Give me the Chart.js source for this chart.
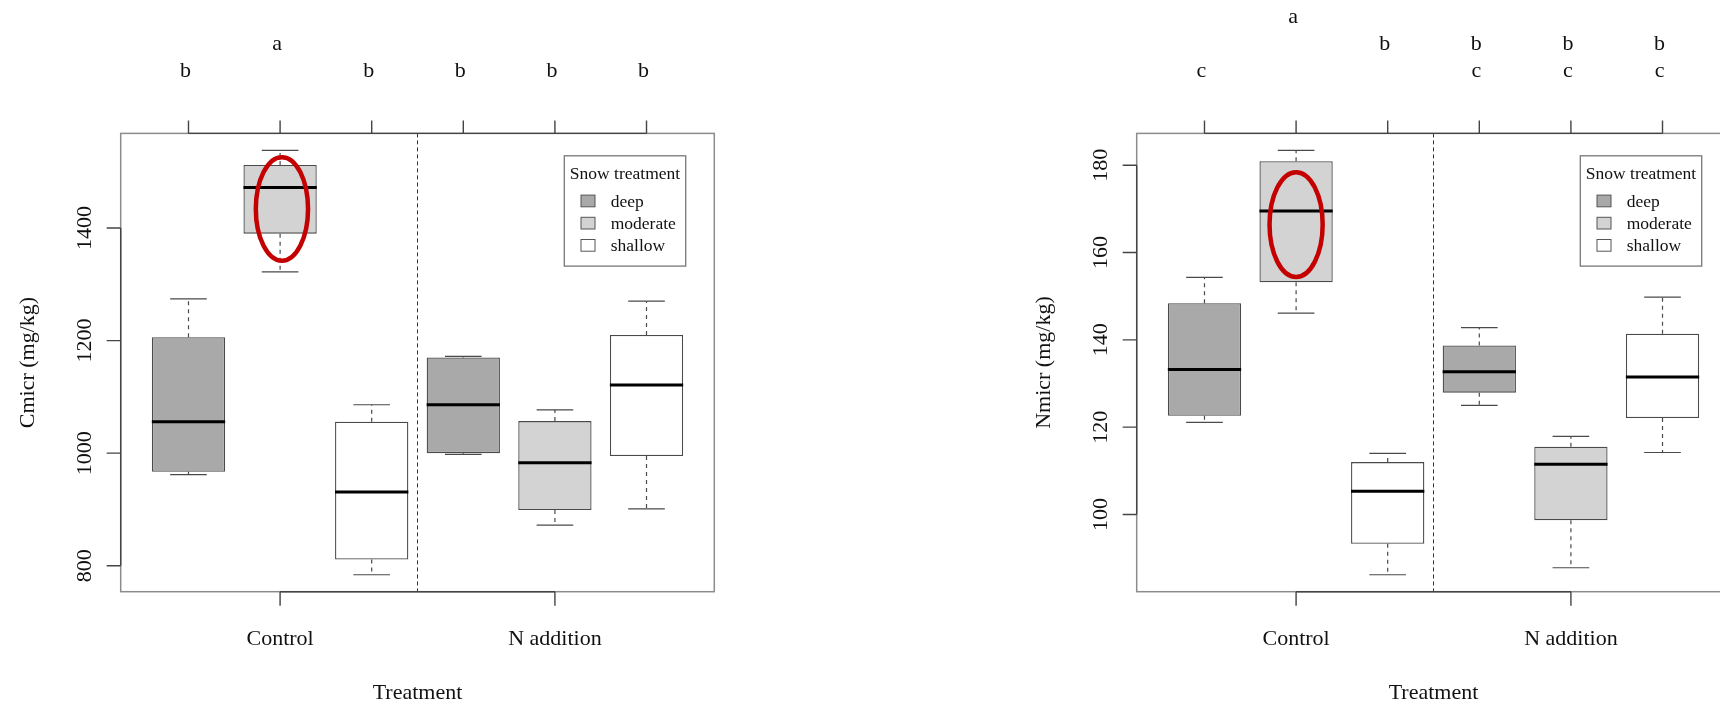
<!DOCTYPE html>
<html>
<head>
<meta charset="utf-8">
<title>Cmicr / Nmicr by treatment</title>
<script src="https://cdn.jsdelivr.net/npm/chart.js@4.4.1/dist/chart.umd.min.js"></script>
<style>
  html, body { margin: 0; padding: 0; background: #fff; width: 1720px; height: 704px; overflow: hidden; position: relative; }
  canvas { position: absolute; top: 0; }
  #cmicrChart { left: 0; }
  #nmicrChart { left: 1016px; }
</style>
</head>
<body>
<canvas id="cmicrChart" width="1016" height="704"></canvas>
<canvas id="nmicrChart" width="1016" height="704"></canvas>
<script>
// ------------------------------------------------------------
// data
// ------------------------------------------------------------
const treatments = ['Control', 'N addition'];
const treatmentPositions = [2, 5];
const snowLevels = ['deep', 'moderate', 'shallow'];
const snowColors = ['#a9a9a9', '#d3d3d3', '#ffffff'];
// box order: Control deep, moderate, shallow, N addition deep, moderate, shallow
const boxPositions = [1, 2, 3, 4, 5, 6];
const boxSnow = [0, 1, 2, 0, 1, 2];

const cmicrLow  = [962, 1322, 784, 998, 872, 901];
const cmicrQ1   = [967, 1390, 811, 1000, 899, 995];
const cmicrMed  = [1056, 1472, 931, 1086, 983, 1121];
const cmicrQ3   = [1206, 1512, 1056, 1170, 1057, 1210];
const cmicrHigh = [1274, 1538, 1086, 1172, 1077, 1270];
const cmicrTicks = [800, 1000, 1200, 1400];
const cmicrLetters = ['b', 'a', 'b', 'b', 'b', 'b'];
const cmicrLetterRows = ['a', 'b'];
const cmicrEllipse = [2.02, 1434, 0.285, 92];   // x, y, x radius, y radius

const nmicrLow  = [121.1, 146.1, 86.2, 125.0, 87.8, 114.2];
const nmicrQ1   = [122.6, 153.2, 93.3, 127.9, 98.7, 122.1];
const nmicrMed  = [133.2, 169.5, 105.3, 132.7, 111.5, 131.5];
const nmicrQ3   = [148.4, 180.9, 112.0, 138.7, 115.5, 141.4];
const nmicrHigh = [154.3, 183.4, 114.0, 142.8, 117.9, 149.8];
const nmicrTicks = [100, 120, 140, 160, 180];
const nmicrLetters = ['c', 'a', 'b', 'bc', 'bc', 'bc'];
const nmicrLetterRows = ['a', 'b', 'c'];
const nmicrEllipse = [2.0, 166.4, 0.29, 12];

// ------------------------------------------------------------
// styles
// ------------------------------------------------------------
const FONT = '"Liberation Serif", "DejaVu Serif", serif';
const AXIS_FONT = '22px ' + FONT;
const LEGEND_FONT = '17.5px ' + FONT;
const INK = '#111';
const BOX_LINE = '#4a4a4a';
const FRAME = '#8c8c8c';
const AXIS_LINE = '#444';

// ------------------------------------------------------------
// R style panel: whiskers, medians, frame, axes, letters, legend
// ------------------------------------------------------------
function rPanel(cfg) {
    return {
        id: 'rPanel',
        afterDatasetsDraw(chart) {
            const ctx = chart.ctx;
            const xs = chart.scales.x;
            const ys = chart.scales.y;
            const a = chart.chartArea;
            ctx.save();

            // whiskers + staples
            boxPositions.forEach((p, i) => {
                const x = xs.getPixelForValue(p);
                const half = xs.getPixelForValue(p + 0.2) - x;
                const yLow = ys.getPixelForValue(cfg.low[i]);
                const yQ1 = ys.getPixelForValue(cfg.q1[i]);
                const yQ3 = ys.getPixelForValue(cfg.q3[i]);
                const yHigh = ys.getPixelForValue(cfg.high[i]);
                ctx.strokeStyle = BOX_LINE;
                ctx.lineWidth = 1.2;
                ctx.setLineDash([4, 4]);
                ctx.beginPath();
                ctx.moveTo(x, yQ3); ctx.lineTo(x, yHigh);
                ctx.moveTo(x, yQ1); ctx.lineTo(x, yLow);
                ctx.stroke();
                ctx.setLineDash([]);
                ctx.beginPath();
                ctx.moveTo(x - half, yHigh); ctx.lineTo(x + half, yHigh);
                ctx.moveTo(x - half, yLow); ctx.lineTo(x + half, yLow);
                ctx.stroke();
            });

            // medians
            boxPositions.forEach((p, i) => {
                const x0 = xs.getPixelForValue(p - 0.4);
                const x1 = xs.getPixelForValue(p + 0.4);
                const y = ys.getPixelForValue(cfg.med[i]);
                ctx.strokeStyle = '#000';
                ctx.lineWidth = 3;
                ctx.beginPath();
                ctx.moveTo(x0, y); ctx.lineTo(x1, y);
                ctx.stroke();
            });

            // red ellipse
            const [ex, ey, erx, ery] = cfg.ellipse;
            const cx = xs.getPixelForValue(ex);
            const cy = ys.getPixelForValue(ey);
            ctx.strokeStyle = '#c40000';
            ctx.lineWidth = 4.5;
            ctx.beginPath();
            ctx.ellipse(cx, cy, xs.getPixelForValue(ex + erx) - cx, cy - ys.getPixelForValue(ey + ery), 0, 0, Math.PI * 2);
            ctx.stroke();

            // separator between treatments
            const sep = xs.getPixelForValue((treatmentPositions[0] + treatmentPositions[1]) / 2);
            ctx.strokeStyle = '#333';
            ctx.lineWidth = 1;
            ctx.setLineDash([4, 3]);
            ctx.beginPath();
            ctx.moveTo(sep, a.top); ctx.lineTo(sep, a.bottom);
            ctx.stroke();
            ctx.setLineDash([]);

            // frame
            ctx.strokeStyle = FRAME;
            ctx.lineWidth = 1.5;
            ctx.strokeRect(a.left, a.top, a.right - a.left, a.bottom - a.top);

            ctx.strokeStyle = AXIS_LINE;
            ctx.lineWidth = 1.4;
            ctx.fillStyle = INK;

            // left axis
            const yt0 = ys.getPixelForValue(cfg.ticks[0]);
            const yt1 = ys.getPixelForValue(cfg.ticks[cfg.ticks.length - 1]);
            ctx.beginPath();
            ctx.moveTo(a.left, yt0); ctx.lineTo(a.left, yt1);
            cfg.ticks.forEach(t => {
                const y = ys.getPixelForValue(t);
                ctx.moveTo(a.left - 14, y); ctx.lineTo(a.left, y);
            });
            ctx.stroke();
            ctx.font = AXIS_FONT;
            ctx.textAlign = 'center';
            ctx.textBaseline = 'alphabetic';
            cfg.ticks.forEach(t => {
                const y = ys.getPixelForValue(t);
                ctx.save();
                ctx.translate(a.left - 30, y);
                ctx.rotate(-Math.PI / 2);
                ctx.fillText(String(t), 0, 0);
                ctx.restore();
            });
            ctx.save();
            ctx.translate(a.left - 87, (a.top + a.bottom) / 2);
            ctx.rotate(-Math.PI / 2);
            ctx.fillText(cfg.yTitle, 0, 0);
            ctx.restore();

            // bottom axis
            const xb0 = xs.getPixelForValue(treatmentPositions[0]);
            const xb1 = xs.getPixelForValue(treatmentPositions[treatmentPositions.length - 1]);
            ctx.beginPath();
            ctx.moveTo(xb0, a.bottom); ctx.lineTo(xb1, a.bottom);
            treatmentPositions.forEach(p => {
                const x = xs.getPixelForValue(p);
                ctx.moveTo(x, a.bottom); ctx.lineTo(x, a.bottom + 14);
            });
            ctx.stroke();
            treatments.forEach((t, i) => {
                ctx.fillText(t, xs.getPixelForValue(treatmentPositions[i]), a.bottom + 53);
            });
            ctx.fillText('Treatment', (a.left + a.right) / 2, a.bottom + 107);

            // top axis with letters
            const xt0 = xs.getPixelForValue(boxPositions[0]);
            const xt1 = xs.getPixelForValue(boxPositions[boxPositions.length - 1]);
            ctx.beginPath();
            ctx.moveTo(xt0, a.top); ctx.lineTo(xt1, a.top);
            boxPositions.forEach(p => {
                const x = xs.getPixelForValue(p);
                ctx.moveTo(x, a.top - 13); ctx.lineTo(x, a.top);
            });
            ctx.stroke();
            const nRows = cfg.letterRows.length;
            boxPositions.forEach((p, i) => {
                const x = xs.getPixelForValue(p) - 3;
                cfg.letters[i].split('').forEach(ch => {
                    const k = cfg.letterRows.indexOf(ch);
                    ctx.fillText(ch, x, a.top - 56 - (nRows - 1 - k) * 27.3);
                });
            });

            // legend
            const lw = 121.4, lh = 110.3;
            const lx = a.right - 150, ly = a.top + 22.4;
            ctx.fillStyle = '#fff';
            ctx.fillRect(lx, ly, lw, lh);
            ctx.strokeStyle = '#777';
            ctx.lineWidth = 1.3;
            ctx.strokeRect(lx, ly, lw, lh);
            ctx.font = LEGEND_FONT;
            ctx.fillStyle = INK;
            ctx.textAlign = 'center';
            ctx.fillText('Snow treatment', lx + lw / 2, ly + 23.6);
            ctx.textAlign = 'left';
            snowLevels.forEach((s, k) => {
                const base = ly + 51 + k * 22.2;
                ctx.fillStyle = snowColors[k];
                ctx.fillRect(lx + 16.7, base - 11.7, 14, 11.7);
                ctx.strokeStyle = '#555';
                ctx.lineWidth = 1;
                ctx.strokeRect(lx + 16.7, base - 11.7, 14, 11.7);
                ctx.fillStyle = INK;
                ctx.fillText(s, lx + 46.4, base);
            });

            ctx.restore();
        }
    };
}

// ------------------------------------------------------------
// build one panel
// ------------------------------------------------------------
function makePanel(canvasId, cfg) {
    const lo = Math.min(...cfg.low);
    const hi = Math.max(...cfg.high);
    const pad = (hi - lo) * 0.04;
    const xPad = (boxPositions.length) * 0.04;

    const datasets = snowLevels.map((s, k) => ({
        label: s,
        data: boxPositions
            .map((p, i) => ({ p, i }))
            .filter(o => boxSnow[o.i] === k)
            .map(o => ({ x: o.p, y: [cfg.q1[o.i], cfg.q3[o.i]] })),
        backgroundColor: snowColors[k],
        borderColor: BOX_LINE,
        borderWidth: 1.3,
        borderSkipped: false,
        grouped: false,
        barPercentage: 0.8,
        categoryPercentage: 1.0
    }));

    return new Chart(document.getElementById(canvasId), {
        type: 'bar',
        data: { datasets },
        options: {
            responsive: false,
            animation: false,
            events: [],
            layout: { padding: { left: 120.7, top: 133.4, right: 301.7, bottom: 112.3 } },
            plugins: { legend: { display: false }, tooltip: { enabled: false }, title: { display: false } },
            scales: {
                x: {
                    type: 'linear',
                    display: false,
                    offset: false,
                    min: boxPositions[0] - 0.5 - xPad,
                    max: boxPositions[boxPositions.length - 1] + 0.5 + xPad,
                    afterBuildTicks: s => { s.ticks = boxPositions.map(v => ({ value: v })); }
                },
                y: {
                    type: 'linear',
                    display: false,
                    min: lo - pad,
                    max: hi + pad
                }
            }
        },
        plugins: [rPanel(cfg)]
    });
}

makePanel('cmicrChart', {
    yTitle: 'Cmicr (mg/kg)',
    low: cmicrLow, q1: cmicrQ1, med: cmicrMed, q3: cmicrQ3, high: cmicrHigh,
    ticks: cmicrTicks, letters: cmicrLetters, letterRows: cmicrLetterRows, ellipse: cmicrEllipse
});

makePanel('nmicrChart', {
    yTitle: 'Nmicr (mg/kg)',
    low: nmicrLow, q1: nmicrQ1, med: nmicrMed, q3: nmicrQ3, high: nmicrHigh,
    ticks: nmicrTicks, letters: nmicrLetters, letterRows: nmicrLetterRows, ellipse: nmicrEllipse
});
</script>
</body>
</html>
